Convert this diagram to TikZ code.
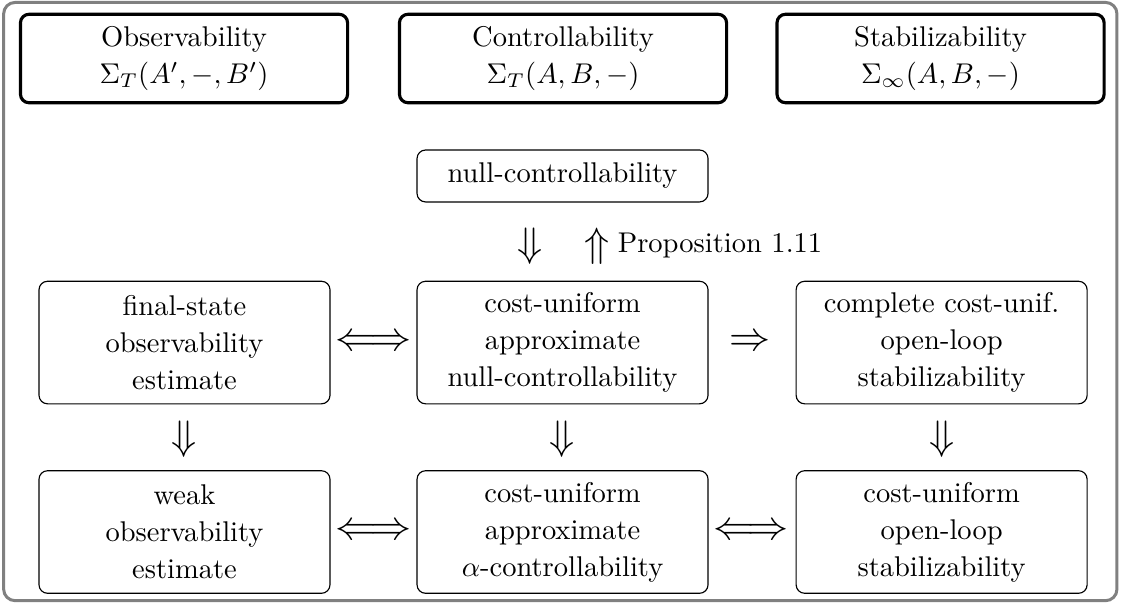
\documentclass[tikz,border=0pt]{standalone}
\usepackage{amsmath}
\usepackage{tikz}

\begin{document}
\begin{tikzpicture}[
  box/.style={draw, rounded corners=3pt, align=center, inner sep=0pt,
    minimum width=3.585cm, minimum height=1.51cm, font=\fontsize{10}{13}\selectfont},
  headbox/.style={box, line width=1.1pt, minimum width=4.03cm, minimum height=1.09cm},
  imp/.style={inner sep=0pt, font=\fontsize{15}{18}\selectfont}
]
\useasboundingbox (0,0) rectangle (13.81,-7.515);
\draw[black!50, line width=1.05pt, rounded corners=4pt] (0.045,-0.03) rectangle (13.76,-7.40);

% the three settings
\node[headbox] (obs) at (2.267,-0.721) {Observability\\ $\Sigma_T(A',-,B')$};
\node[headbox] (ctr) at (6.936,-0.721) {Controllability\\ $\Sigma_T(A,B,-)$};
\node[headbox] (stb) at (11.587,-0.721) {Stabilizability\\ $\Sigma_\infty(A,B,-)$};

\node[box, minimum height=0.64cm] (nc) at (6.93,-2.168) {null-controllability};
\node[imp] (ncdown) at (6.53,-3.03) {$\Downarrow$};
\node[imp] (ncup) at (7.355,-3.03) {$\Uparrow$};
\node[imp, font=\fontsize{10}{13}\selectfont, anchor=west, xshift=2.5pt] (prop) at (ncup.east) {Proposition 1.11};

% middle row
\node[box] (fso) at (2.273,-4.22) {final-state\\ observability\\ estimate};
\node[box] (cuanc) at (6.93,-4.22) {cost-uniform\\ approximate\\ null-controllability};
\node[box] (ccuols) at (11.60,-4.22) {complete cost-unif.\\ open-loop\\ stabilizability};
\node[imp] (eqa) at (4.60,-4.22) {$\Longleftrightarrow$};
\node[imp] (impa) at (9.24,-4.22) {$\Rightarrow$};

\node[imp] (dna) at (2.273,-5.41) {$\Downarrow$};
\node[imp] (dnb) at (6.93,-5.41) {$\Downarrow$};
\node[imp] (dnc) at (11.60,-5.41) {$\Downarrow$};

% bottom row
\node[box] (woe) at (2.273,-6.554) {weak\\ observability\\ estimate};
\node[box] (cuaac) at (6.93,-6.554) {cost-uniform\\ approximate\\ $\alpha$-controllability};
\node[box] (cuols) at (11.60,-6.554) {cost-uniform\\ open-loop\\ stabilizability};
\node[imp] (eqb) at (4.60,-6.554) {$\Longleftrightarrow$};
\node[imp] (eqc) at (9.25,-6.554) {$\Longleftrightarrow$};

\end{tikzpicture}
\end{document}
